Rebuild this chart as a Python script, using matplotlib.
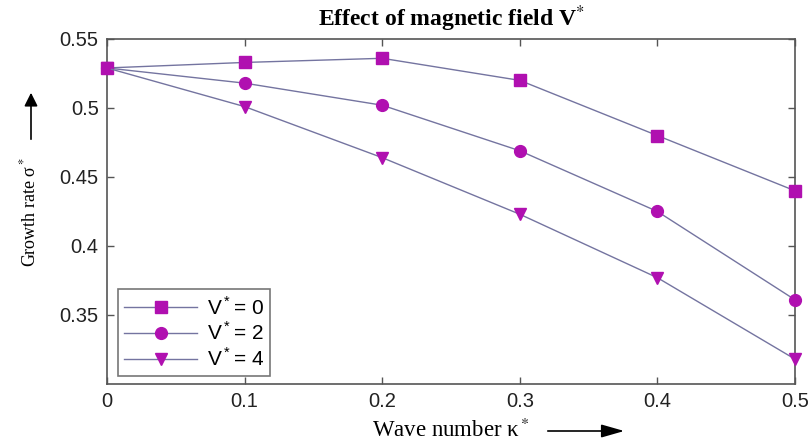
import matplotlib
matplotlib.use("Agg")
import matplotlib.pyplot as plt

kappa = [0.0, 0.1, 0.2, 0.3, 0.4, 0.5]
v0 = [0.529, 0.533, 0.536, 0.520, 0.480, 0.440]
v2 = [0.529, 0.518, 0.502, 0.469, 0.425, 0.361]
v4 = [0.529, 0.501, 0.464, 0.423, 0.377, 0.318]
labels = ["V$^*$= 0", "V$^*$= 2", "V$^*$= 4"]
xticks = [0, 0.1, 0.2, 0.3, 0.4, 0.5]
yticks = [0.35, 0.4, 0.45, 0.5, 0.55]

plt.rcParams['mathtext.fontset'] = 'custom'
plt.rcParams['mathtext.rm'] = 'Liberation Sans'

fig = plt.figure(figsize=(8.09, 4.41), dpi=100)
ax = fig.add_axes([0.1323, 0.1293, 0.8504, 0.7823])

line_c = '#7474a0'
mk_c = '#b010b0'
for y, m, lab in zip([v0, v2, v4], ['s', 'o', 'v'], labels):
    ax.plot(kappa, y, color=line_c, lw=1.0, marker=m, markersize=8.5,
            markerfacecolor=mk_c, markeredgecolor=mk_c, label=lab, clip_on=False, zorder=3)

ax.set_xlim(0, 0.5)
ax.set_ylim(0.30, 0.55)
ax.set_xticks(xticks)
ax.set_xticklabels(['0', '0.1', '0.2', '0.3', '0.4', '0.5'])
ax.set_yticks(yticks)
ax.set_yticklabels(['0.35', '0.4', '0.45', '0.5', '0.55'])
ax.tick_params(direction='in', top=True, right=True, length=5, width=1, colors='#555555',
               labelcolor='#222222', labelsize=14.5, pad=6)
for lab in ax.get_xticklabels() + ax.get_yticklabels():
    lab.set_family('Liberation Sans')
for s in ax.spines.values():
    s.set_color('#555555')
    s.set_linewidth(1.2)

leg = ax.legend(loc='lower left', bbox_to_anchor=(0.016, 0.023), prop={'family': 'Liberation Sans', 'size': 15},
                frameon=True, fancybox=False, edgecolor='#555555', handlelength=3.5,
                borderpad=0.3, labelspacing=0.15, handletextpad=0.45, borderaxespad=0)
leg.get_frame().set_linewidth(1.2)

fig.text(451/809, 1-19/441, "Effect of magnetic field V$^{*}$", family='Liberation Serif',
         fontweight='bold', fontsize=17, ha='center', va='center',
         math_fontfamily='stix')

fig.text(29/809, 1-212/441, "Growth rate σ$^*$", family='Liberation Serif', fontsize=13,
         rotation=90, ha='center', va='center', math_fontfamily='stix')
fig.text(451/809, 1-430/441, "Wave number κ$^*$", family='Liberation Serif', fontsize=16.5,
         ha='center', va='center', math_fontfamily='stix')

fig.patches.append(matplotlib.patches.FancyArrowPatch(
    (31/809, 1-142/441), (31/809, 1-90/441), transform=fig.transFigure,
    arrowstyle='-|>,head_length=8,head_width=4', color='black', lw=1.2, mutation_scale=1))
fig.patches.append(matplotlib.patches.FancyArrowPatch(
    (545/809, 1-431/441), (627/809, 1-431/441), transform=fig.transFigure,
    arrowstyle='-|>,head_length=14,head_width=4', color='black', lw=1.2, mutation_scale=1))

fig.savefig("out.png", dpi=100)
